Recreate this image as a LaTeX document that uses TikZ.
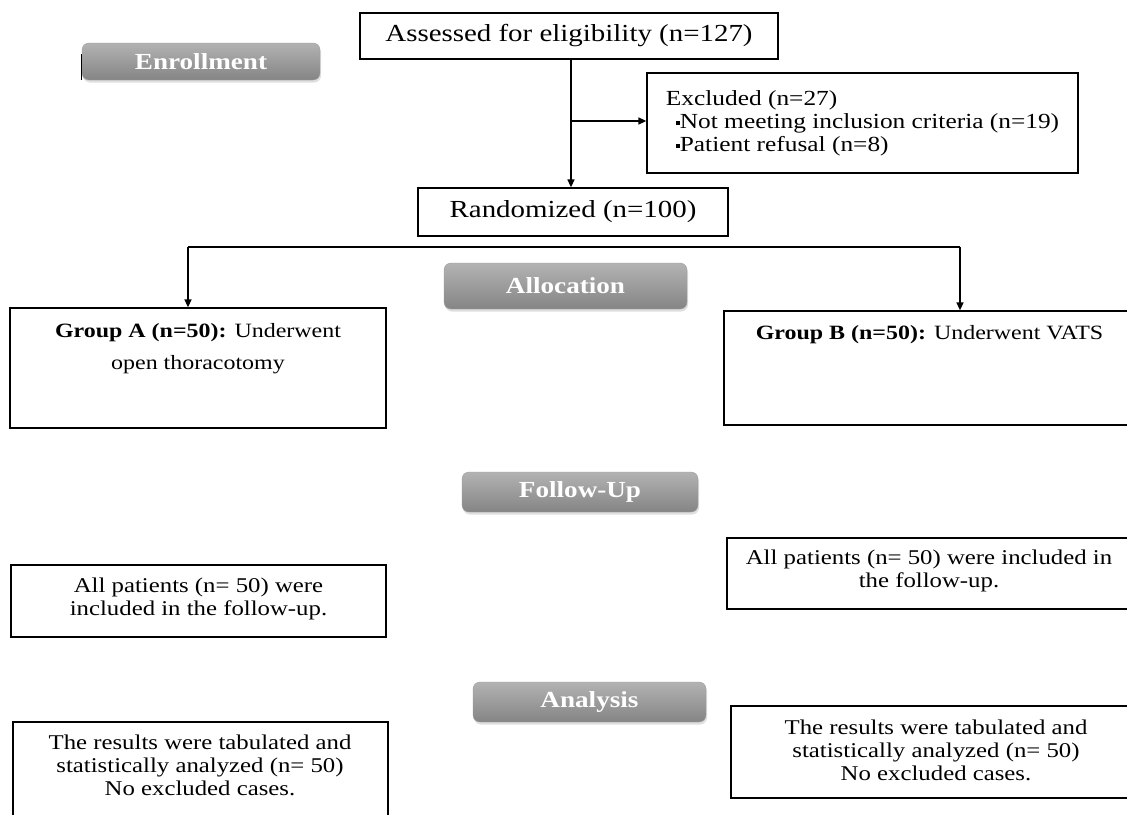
\documentclass[tikz,border=0pt]{standalone}
\usepackage{fontspec}
\setmainfont[FakeStretch=1.18]{Liberation Serif}
\usetikzlibrary{arrows.meta,positioning,shadows}
\newcommand{\sqbul}{\raisebox{0.28ex}{\rule{0.2em}{0.2em}}}

\begin{document}
\begin{tikzpicture}[
  x=1pt, y=-1pt,
  stage/.style={rounded corners=7pt, top color=black!30, bottom color=black!48, draw=black!38,
    text=white, font=\fontsize{23}{26}\selectfont\bfseries, inner sep=0pt,
    drop shadow={shadow xshift=1pt, shadow yshift=-2.5pt, opacity=0.25}},
  panel/.style={draw, line width=1.3pt, inner sep=0pt},
  big/.style={font=\fontsize{24.5}{28}\selectfont},
  body/.style={align=center, inner sep=0pt, font=\fontsize{21}{23}\selectfont},
  arrow/.style={-{Triangle[length=8pt,width=7pt]}, line width=1.5pt}
]
\clip (0,0) rectangle (1127,814);
\fill[white] (0,0) rectangle (1127,814);

% stage buttons
\node[stage, minimum width=238pt, minimum height=37pt] (enrol) at (201,61.5) {Enrollment};
\draw[line width=1.2pt] (enrol.south west) -- ++(0,-26);
\node[stage, minimum width=243pt, minimum height=46pt] (alloc) at (565.5,286) {Allocation};
\node[stage, minimum width=236pt, minimum height=40pt] (follow) at (580,492) {Follow-Up};
\node[stage, minimum width=233pt, minimum height=40pt] (analysis) at (589.5,702) {Analysis};

% enrollment
\node[panel, big, minimum width=418pt, minimum height=46pt] (assessed) at (569,36)
  {Assessed for eligibility (n=127)};
\node[panel, align=left, minimum width=431pt, minimum height=100pt,
  font=\fontsize{21.5}{23}\selectfont] (excluded) at (862.5,123)
  {Excluded (n=27)\\\hspace{0.45em}\sqbul Not meeting inclusion criteria (n=19)\\\hspace{0.45em}\sqbul Patient refusal (n=8)};
\node[panel, big, minimum width=310pt, minimum height=48pt] (random) at (573,212)
  {Randomized (n=100)};

\coordinate (trunk) at (571,121);
\draw[arrow] (assessed.south -| trunk) -- (random.north -| trunk);
\draw[arrow] (trunk) -- (trunk -| excluded.west);

% allocation
\coordinate (splitL) at (188,247);
\coordinate (splitR) at (960,247);
\node[panel, minimum width=376pt, minimum height=120pt] (groupA) at (198,368) {};
\node[panel, minimum width=411pt, minimum height=114pt] (groupB) at (929.5,368) {};
\draw[line width=1.5pt] (splitL) -- (splitR);
\draw[arrow] (splitL) -- (splitL |- groupA.north);
\draw[arrow] (splitR) -- (splitR |- groupB.north);
\node[body, anchor=north, font=\fontsize{20.3}{32}\selectfont] (groupAtxt) at (198,323)
  {\textbf{Group A (n=50):} Underwent\\open thoracotomy};
\node[body, anchor=north, font=\fontsize{20.3}{32}\selectfont] (groupBtxt) at (929.5,325)
  {\textbf{Group B (n=50):} Underwent VATS};

% follow-up
\node[panel, minimum width=375pt, minimum height=72pt] (followA) at (198.5,601) {};
\node[body] (followAtxt) at (198.5,599) {All patients (n= 50) were\\included in the follow-up.};
\node[panel, minimum width=408pt, minimum height=71pt] (followB) at (931,573.5) {};
\node[body] (followBtxt) at (929,571) {All patients (n= 50) were included in\\the follow-up.};

% analysis
\node[panel, minimum width=375pt, minimum height=118pt] (analysisA) at (200.5,781) {};
\node[body, anchor=north] (analysisAtxt) at (200,735)
  {The results were tabulated and\\statistically analyzed (n= 50)\\No excluded cases.};
\node[panel, minimum width=404pt, minimum height=92pt] (analysisB) at (933,752) {};
\node[body] (analysisBtxt) at (936,750)
  {The results were tabulated and\\statistically analyzed (n= 50)\\No excluded cases.};
\end{tikzpicture}
\end{document}
